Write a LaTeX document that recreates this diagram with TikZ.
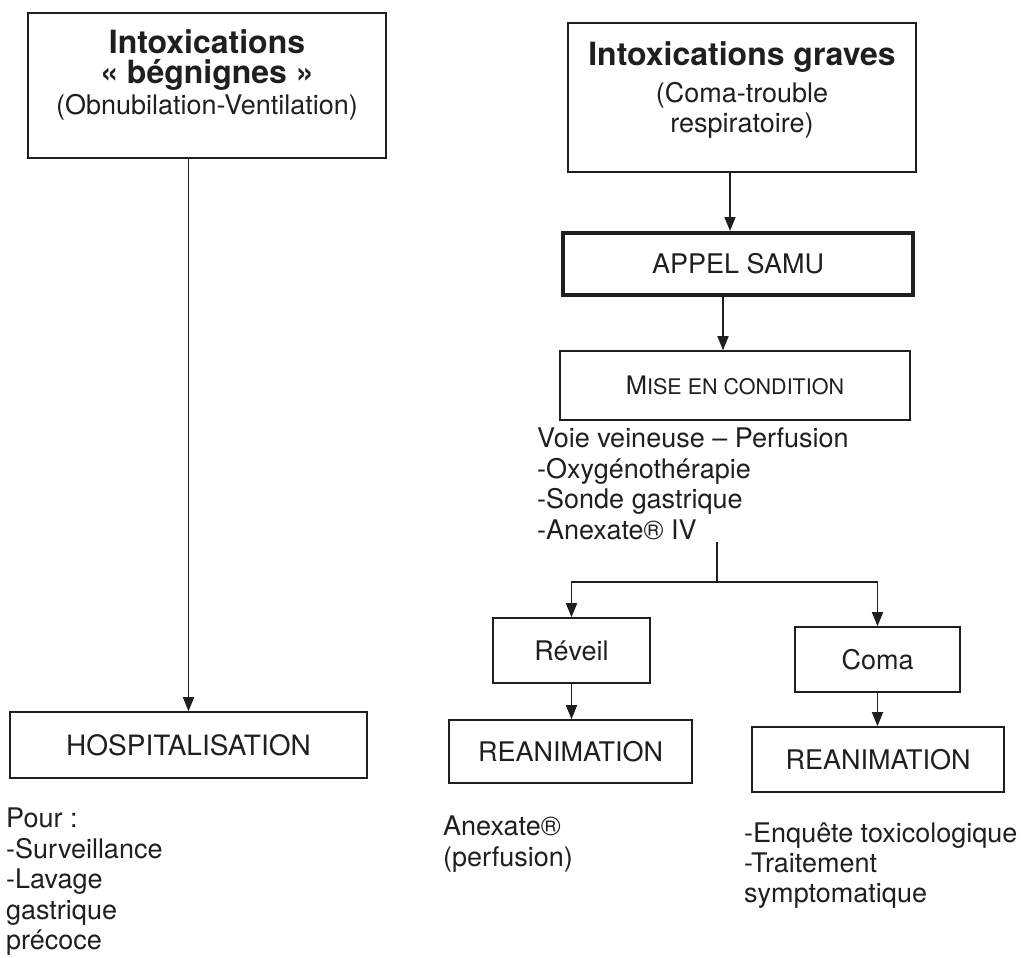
\documentclass[tikz,border=0pt]{standalone}
\usepackage{fontspec}
\setmainfont{TeX Gyre Heros}
\usetikzlibrary{arrows.meta}
\definecolor{ink}{gray}{0.12}
\begin{document}
\begin{tikzpicture}[x=1pt,y=-1pt,
  every node/.style={text=ink},
  frame/.style={draw=ink, line width=1.6pt, inner sep=0pt, rectangle},
  lbl/.style={font=\fontsize{27}{30}\selectfont},
  link/.style={draw=ink, line width=1.7pt, -{Triangle[length=14pt,width=11pt]}},
  plain/.style={draw=ink, line width=1.7pt},
  notes/.style={inner sep=0pt, align=left, anchor=north west}]
\useasboundingbox (0,0) rectangle (1033,958);

% top boxes
\node[frame] (benign) at (207,85.5) {\parbox[c][145pt][t]{358pt}{\centering
  \baselineskip=30pt\lineskiplimit=-100pt
  \rule{0pt}{40pt}{\fontsize{32}{30}\bfseries Intoxications}\par
  {\fontsize{32}{30}\bfseries «~bégnignes~»}\par
  \fontsize{27}{32}\selectfont (Obnubilation-Ventilation)\par}};

\node[frame] (grave) at (742,97.5) {\parbox[c][149pt][t]{348pt}{\centering
  \baselineskip=30pt\lineskiplimit=-100pt
  \rule{0pt}{42pt}{\fontsize{32}{30}\bfseries Intoxications graves}\par
  \fontsize{27}{37}\selectfont (Coma-trouble\par
  \fontsize{27}{30}\selectfont respiratoire)\par}};

% right column
\node[frame, line width=4pt, minimum width=350pt, minimum height=62pt, lbl]
  (samu) at (738,264) {APPEL SAMU};
\node[frame, minimum width=350pt, minimum height=69pt]
  (mise) at (735,385.5) {{\fontsize{25.5}{25}\selectfont M}{\fontsize{21.5}{25}\selectfont ISE EN CONDITION}};
\node[notes, font=\fontsize{27}{30.5}\selectfont] (voie) at (537,428)
  {Voie veineuse – Perfusion\\-Oxygénothérapie\\-Sonde gastrique\\-Anexate® IV};

\node[frame, minimum width=157pt, minimum height=65pt, lbl] (wake) at (571.5,650.5) {Réveil};
\node[frame, minimum width=165pt, minimum height=65pt, lbl] (coma) at (877.5,659.5) {Coma};
\node[frame, minimum width=243pt, minimum height=63pt, lbl] (icuL) at (570.5,751.5) {REANIMATION};
\node[frame, minimum width=252pt, minimum height=65pt, lbl] (icuR) at (878,759.5) {REANIMATION};

\node[notes, font=\fontsize{27}{31}\selectfont] (anex) at (443,816) {Anexate®\\(perfusion)};
\node[notes, font=\fontsize{27}{30}\selectfont] (enq) at (744,823)
  {-Enquête toxicologique\\-Traitement\\symptomatique};

% left column
\node[frame, minimum width=357pt, minimum height=66pt, font=\fontsize{28}{30}\selectfont]
  (hosp) at (188.5,745) {HOSPITALISATION};
\node[notes, font=\fontsize{27}{30.5}\selectfont] (pour) at (6,808)
  {Pour :\\-Surveillance\\-Lavage\\gastrique\\précoce};

% connectors
\draw[link] (benign.south -| hosp.north) -- (hosp.north);
\draw[link] ([xshift=-8pt]samu.north |- grave.south) -- ([xshift=-8pt]samu.north);
\draw[link] ([xshift=-12pt]mise.north |- samu.south) -- ([xshift=-12pt]mise.north);
\coordinate (stem) at (717,542);
\coordinate (fork) at (717,582);
\draw[plain] (stem) -- (fork);
\draw[link] (fork) -| (wake.north);
\draw[link] (fork) -| (coma.north);
\draw[link] (wake.south) -- (wake.south |- icuL.north);
\draw[link] (coma.south) -- (coma.south |- icuR.north);
\end{tikzpicture}
\end{document}
